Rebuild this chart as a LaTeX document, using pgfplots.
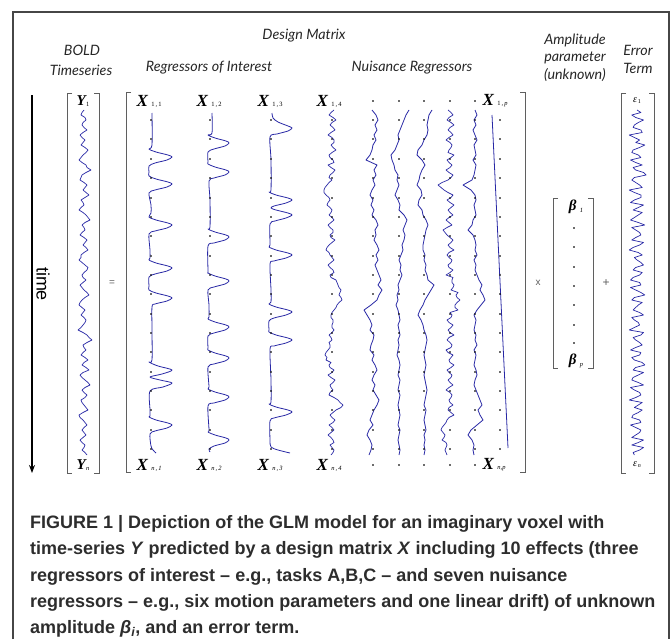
\documentclass[border=0pt]{standalone}
\usepackage{pgfplots}
\pgfplotsset{compat=1.18}
\usepackage{pgfplotstable}
\usepackage{fontspec}
\usetikzlibrary{arrows.meta}
\setmainfont{Liberation Serif}
\newfontfamily\hdr{Lato}
\newfontfamily\plain{Liberation Sans}
\newfontfamily\capfont{Liberation Sans}

\definecolor{sig}{RGB}{40,40,165}
\definecolor{brk}{RGB}{95,95,95}
\definecolor{frame}{RGB}{70,70,70}
\definecolor{captxt}{RGB}{45,45,45}

\tikzset{
  sigline/.style={sig, no markers, line width=0.8pt, line join=round},
  hd/.style={font=\hdr\itshape\fontsize{14.3}{16}\selectfont, text=black!85},
  br/.style={brk, line width=0.8pt},
  capline/.style={anchor=base west, inner sep=0pt, text=captxt,
    font=\capfont\bfseries\fontsize{18}{21}\selectfont},
}

% slower nuisance regressors: offsets (px) from the column line, every 5 px of time
\pgfplotstableread{
y   xb  xc  xd  xf
110 -1  10   8   0
115  3   7   5   2
120  5   5   4  -1
125  2   3   3   1
130  4   1   4  -2
135  1  -1   3   0
140  3   0   0   2
145  0  -2  -2  -1
150 -1  -4  -6   0
155 -3  -8  -7   1
160 -7  -7  -2  -2
165  4  -5   1   1
170  1  -4  -2   0
175  3  -1  -4  -1
180  0  -2  -5  -3
185  2   0  -7 -12
190 -1  -2  -3  -4
195 -3  -4  -2   0
200  0  -1  -5   1
205 -2   1  -6  -1
210  1   0  -2   0
215 -1   5  -1   1
220  3   8   2  -2
225  5   6   4  -3
230  2   4   2  -7
235  3   6   1  -2
240  1   5   0   0
245  4   3  -1   1
250  6   4  -1   0
255  3   2   1   2
260  5   0   0  -1
265  2   2   2   1
270  4   1   1   0
275  6   3   3   2
280  8   1   4   4
285  5  -1  10   7
290  9   0   7   5
295  6  -2   4   8
300  4  -1   1  10
305 -2  -3  -1   6
310 -9  -1  -4   2
315 -6   0  -6  -1
320 -3   1  -3   1
325 -1  -1  -1   0
330 -3   0   0  -1
335  1   1   2   1
340  0  -1   3   0
345 -2   0   2   2
350 -3  -1   1  -1
355  1  -2   0   1
360 -1   0   1   0
365  2   1   2  -1
370  4   0   1   1
375  1  -1   0   2
380 -1   1   1   0
385  2   0   2  -1
390  0  -1   3   1
395  3   1   2   3
400  6   0   1   5
405  4  -1   0   7
410  1   0   2   3
415 -1   1   1   5
420 -3   0   0   8
425  0  -1   1   2
430 -4   1   2  -4
435 -6   0   0  -7
440 -3  -1   1  -3
445 -1   0   0  -1
450 -2   1   1  -2
455 -4   0   0  -1
}\slow

% fast series (BOLD, error, X14, X18): offsets every 2.5 px of time
\pgfplotstableread{
y     bold err xa  xe
110    0   0   2  -2
112.5 -2   3  -1   1
115   -3  -4  -3   3
117.5  1  -1   1  -1
120    2   5   4  -3
122.5 -1   1   0   1
125   -2  -2  -2   4
127.5  0  -3   1   0
130    3   3   3  -2
132.5 -1   4  -1   1
135   -4  -6  -4   3
137.5 -2  -2   0  -1
140    1   2   2  -4
142.5 -1  -1   2   0
145   -3   6  -1   2
147.5  1   2   1   1
150    4  -3   4  -1
152.5  2  -4   0  -2
155   -1   1  -3   4
157.5 -3   3  -2   1
160   -5  -5   1  -3
162.5 -2  -1   2  -1
165    2   4  -4   2
167.5  3  -3  -1   0
170    7  -1   3  -4
172.5  2   5   1  -1
175   -2   7  -2   3
177.5 -3  -2  -3   1
180   -4  -4   0  -2
182.5  0  -1  -3  -8
185    3   2  -5 -12
187.5  1   4  -7  -9
190   -1  -6  -8  -6
192.5  2  -2  -8  -2
195    5   3  -6   3
197.5  1   3  -3   1
200   -3  -2  -2  -3
202.5 -1  -5  -4   0
205    0   5  -5   4
207.5 -3   1  -2   1
210   -5  -3   0  -2
212.5 -1   4  -1   0
215    2   1  -3   3
217.5  4  -2   0  -1
220    6  -5   2  -4
222.5  1   1  -1  -1
225   -2   6  -4   2
227.5  0  -4  -2  -3
230    1  -1   1  -7
232.5 -2   2   1  -5
235   -4   3  -2  -3
237.5  0  -1  -1   0
240    3  -4   3   3
242.5  1   5   0   1
245   -1   2  -3  -2
247.5  2  -3  -5   0
250    4  -6  -6   4
252.5  0   1  -3  -1
255   -3   4  -2  -3
257.5 -3  -2   0  -1
260   -5   0   2   2
262.5 -2   3  -1   1
265    1   5  -4  -2
267.5  4  -1  -2  -1
270    3  -3   1   3
272.5  0   4   2   0
275   -2   2  -2  -4
277.5 -1  -3  -1   3
280    2  -5   4   2
282.5 -1   2   5   2
285   -4   3   6   4
287.5 -2  -5   7   3
290    0  -1   9   1
292.5  3   3   8   8
295    5   6   7   6
297.5  1  -2   9   7
300   -2  -4  10  10
302.5 -4   4   7   7
305   -5   1   5   5
307.5 -2  -1   4   5
310    1  -3   2   8
312.5 -1   2   0   0
315   -3   5  -1   2
317.5  0  -4  -1   1
320    2  -2   1  -3
322.5  1   1   1  -1
325   -1   2   0   3
327.5 -3  -2   0   1
330   -6  -6   2  -2
332.5 -1   5   0   0
335    3   3  -3   4
337.5  5  -3  -1  -1
340    8  -1   0  -3
342.5  3   2  -3   0
345   -1   4  -2   2
347.5  0  -1  -2   1
350    2  -5  -4  -4
352.5 -1   3  -6  -2
355   -3   2  -7   3
357.5  1  -4  -5   1
360    4  -2  -6  -1
362.5  0   4  -1   0
365   -2   6  -3   4
367.5  2  -1  -2   1
370    5  -3   2  -3
372.5 -1   5   0  -1
375   -4   1  -4   2
377.5 -2  -3  -1   1
380    1  -4   3  -2
382.5  4   1   1   0
385    6   5  -2   3
387.5  1  -5  -1  -1
390   -2  -2   1  -4
392.5  0   2  -2   0
395    3   3  -3   2
397.5  1  -1   2   1
400   -3  -6   6  -1
402.5 -2   4   8   0
405    0   1  11   3
407.5  2  -2   9  -1
410    4   4   4  -2
412.5 -1   1   1   1
415   -5  -3  -2   4
417.5 -4  -4   0  -1
420   -1   2   3  -3
422.5  1   3   1  -4
425    3  -5  -3  -6
427.5  0  -1   0  -8
430   -2   3   2  -9
432.5  0   2  -1  -7
435    2  -1  -4  -5
437.5 -1  -4  -1  -6
440   -4   5   1  -8
442.5 -2   1   2  -4
445    1  -4  -2  -3
447.5  0   5   0  -4
450   -2   2   2  -5
452.5  1  -3   1  -4
455    3  -2  -1  -3
}\fast

% row dots of the matrix
\pgfplotstableread{
y
120
139
159
178
198
217
236
256
275
294
314
333
352
372
391
410
430
449
}\rows
\pgfplotstableread{
y
101
465
}\ends
\pgfplotstableread{
y
228
247
267
286
305
325
343
}\betarows

\newcommand{\bigX}{{\fontsize{17}{17}\selectfont\bfseries\itshape X}}
\newcommand{\mX}[2]{\bigX\kern3.5pt{\fontsize{6.5}{7}\selectfont #1\,,\,#2}}
\newcommand{\mY}[1]{{\fontsize{15}{15}\selectfont\bfseries\itshape Y}\kern0.5pt\raisebox{-1pt}{\fontsize{6.5}{7}\selectfont #1}}
\newcommand{\mB}[1]{{\fontsize{15}{15}\selectfont\bfseries\itshape β}\kern3.5pt\raisebox{-2pt}{\fontsize{6.5}{7}\selectfont\itshape #1}}
\newcommand{\mE}[1]{{\fontsize{10}{10}\selectfont\itshape ε}\kern1pt\raisebox{-1pt}{\fontsize{6}{7}\selectfont #1}}

\begin{document}
\begin{tikzpicture}
\begin{axis}[
  scale only axis,
  width=671pt, height=639pt,
  xmin=0, xmax=671, ymin=0, ymax=639,
  y dir=reverse,
  hide axis, clip=false,
]
\path (axis cs:0,0) rectangle (axis cs:671,639);

% frame
\draw[frame, line width=1.1pt] (axis cs:13,639) -- (axis cs:13,12) -- (axis cs:669,12) -- (axis cs:669,639);

% headings
\node[hd] at (axis cs:304,36) {Design Matrix};
\node[hd] at (axis cs:82,50) {BOLD};
\node[hd] at (axis cs:81,70) {Timeseries};
\node[hd] at (axis cs:209,68) {Regressors of Interest};
\node[hd] at (axis cs:412,68) {Nuisance Regressors};
\node[hd] at (axis cs:575,40) {Amplitude};
\node[hd] at (axis cs:575,58) {parameter};
\node[hd] at (axis cs:575,75) {(unknown)};
\node[hd] at (axis cs:638,50) {Error};
\node[hd] at (axis cs:638,68) {Term};

% time arrow
\draw[black, line width=1.6pt, -{Stealth[length=8pt,width=6pt]}] (axis cs:32,95) -- (axis cs:32,473);
\node[font=\plain\fontsize{18}{18}\selectfont, rotate=-90] at (axis cs:43,284) {time};

% brackets
\draw[br] (axis cs:72,93) -- (axis cs:67,93) -- (axis cs:67,473) -- (axis cs:72,473);
\draw[br] (axis cs:94,93) -- (axis cs:99,93) -- (axis cs:99,473) -- (axis cs:94,473);
\draw[br] (axis cs:131,92) -- (axis cs:126,92) -- (axis cs:126,472) -- (axis cs:131,472);
\draw[br] (axis cs:520,92) -- (axis cs:525,92) -- (axis cs:525,472) -- (axis cs:520,472);
\draw[br] (axis cs:558,198) -- (axis cs:553,198) -- (axis cs:553,368) -- (axis cs:558,368);
\draw[br] (axis cs:588,198) -- (axis cs:593,198) -- (axis cs:593,368) -- (axis cs:588,368);
\draw[br] (axis cs:626,93) -- (axis cs:621,93) -- (axis cs:621,473) -- (axis cs:626,473);
\draw[br] (axis cs:649,93) -- (axis cs:654,93) -- (axis cs:654,473) -- (axis cs:649,473);

% operators
\node[font=\plain\fontsize{10}{10}\selectfont, brk] at (axis cs:112,283) {=};
\node[font=\plain\fontsize{10}{10}\selectfont, brk] at (axis cs:538,283) {x};
\node[font=\plain\fontsize{12}{12}\selectfont, brk] at (axis cs:606,283) {+};

% element labels
\node at (axis cs:83,101) {\mY{1}};
\node at (axis cs:83,465) {\mY{\itshape n}};
\node[anchor=west] at (axis cs:133,101) {\mX{1}{1}};
\node[anchor=west] at (axis cs:193,101) {\mX{1}{2}};
\node[anchor=west] at (axis cs:254,101) {\mX{1}{3}};
\node[anchor=west] at (axis cs:313,101) {\mX{1}{4}};
\node[anchor=west] at (axis cs:479,101) {\bigX\kern3.5pt{\fontsize{6.5}{7}\selectfont 1\,,\,\itshape p}};
\node[anchor=west] at (axis cs:133,465) {\mX{\itshape n}{1}};
\node[anchor=west] at (axis cs:193,465) {\mX{\itshape n}{2}};
\node[anchor=west] at (axis cs:254,465) {\mX{\itshape n}{3}};
\node[anchor=west] at (axis cs:313,465) {\mX{\itshape n}{4}};
\node[anchor=west] at (axis cs:479,465) {\bigX\kern3.5pt{\fontsize{6.5}{7}\selectfont\itshape n,p}};
\node at (axis cs:576,207) {\mB{1}};
\node at (axis cs:576,361) {\mB{p}};
\node at (axis cs:637,101) {\mE{1}};
\node at (axis cs:637,465) {\mE{\itshape n}};

% dots of the matrix and of the amplitude vector
\pgfplotsinvokeforeach{151,210,271,332,373,399,424,450,475,500}{
  \addplot[only marks, mark=*, mark size=0.55pt, draw=none, fill=black!70] table[x expr=#1, y=y] {\rows};
}
\pgfplotsinvokeforeach{373,399,424,450,475}{
  \addplot[only marks, mark=*, mark size=0.55pt, draw=none, fill=black!70] table[x expr=#1, y=y] {\ends};
}
\addplot[only marks, mark=*, mark size=0.55pt, draw=none, fill=black!70] table[x expr=574, y=y] {\betarows};

% BOLD time series and error term
\addplot[sigline, line width=0.7pt] table[x expr=\thisrow{bold}+84, y=y] {\fast};
\addplot[sigline, line width=0.7pt] table[x expr=1.3*\thisrow{err}+637, y=y] {\fast};

% regressors of interest
\addplot[sigline, smooth, tension=0.5] coordinates {
(152,113) (152,145)
(149,149) (156,152) (168,155) (172,157) (167,160) (155,163) (149,166) (149,172)
(149,176) (156,179) (168,182) (172,184) (167,187) (155,190) (149,193)
(151,205) (151,213)
(149,217) (156,220) (168,223) (172,225) (167,228) (155,231) (149,234)
(150,250) (150,258)
(149,260) (156,263) (168,266) (172,268) (167,271) (155,274) (149,277) (149,286)
(149,290) (156,293) (168,296) (172,298) (167,301) (155,304) (152,307)
(152,330) (152,360)
(149,362) (158,366) (172,370) (162,374) (150,377) (160,380) (172,383) (163,387) (150,391)
(150,410) (150,416)
(149,417) (156,420) (168,423) (172,425) (167,428) (155,431) (150,434)
(151,446) (153,450) (156,453)
};
\addplot[sigline, smooth, tension=0.5] coordinates {
(212,113) (212,133)
(208,135) (215,138) (226,141) (229,143) (225,146) (214,149) (208,152) (208,162)
(208,164) (215,167) (226,170) (229,172) (225,175) (214,178) (209,181)
(210,200) (210,227)
(208,229) (215,232) (226,235) (229,237) (225,240) (214,243) (208,246) (208,271)
(208,273) (215,276) (226,279) (229,281) (225,284) (214,287) (208,290)
(209,305) (209,317)
(208,319) (215,322) (226,325) (229,327) (225,330) (214,333) (208,336) (208,348)
(208,350) (215,353) (226,356) (229,358) (225,361) (214,364) (208,367)
(209,387)
(208,389) (215,392) (226,395) (229,397) (225,400) (214,403) (208,406)
(209,430)
(208,432) (215,435) (226,438) (229,440) (225,443) (214,446) (209,449)
(210,452)
};
\addplot[sigline, smooth, tension=0.5] coordinates {
(272,113) (273,118)
(278,122) (288,126) (292,128) (288,131) (277,134) (270,137)
(271,160) (271,190)
(269,192) (276,195) (288,198) (292,200) (286,203) (274,206) (271,208)
(276,210) (288,213) (292,215) (286,218) (275,221) (270,224)
(270,245)
(269,247) (276,250) (288,253) (292,255) (286,258) (274,261) (270,264)
(271,290) (271,302)
(269,304) (276,307) (288,310) (292,312) (286,315) (274,318) (269,321) (269,330)
(269,332) (276,335) (288,338) (292,340) (286,343) (274,346) (270,349)
(271,380) (271,402)
(269,404) (276,407) (288,410) (292,412) (286,415) (274,418) (270,421)
(270,440) (271,447) (278,450) (290,453)
};

% nuisance regressors
\addplot[sigline, line width=0.7pt] table[x expr=\thisrow{xa}+332, y=y] {\fast};
\addplot[sigline] table[x expr=\thisrow{xb}+373, y=y] {\slow};
\addplot[sigline] table[x expr=\thisrow{xc}+399, y=y] {\slow};
\addplot[sigline] table[x expr=\thisrow{xd}+424, y=y] {\slow};
\addplot[sigline, line width=0.7pt] table[x expr=\thisrow{xe}+450, y=y] {\fast};
\addplot[sigline] table[x expr=\thisrow{xf}+475, y=y] {\slow};
\addplot[sigline] coordinates {(492,115) (508,448)};

% caption
\node[capline] at (axis cs:30,528) {FIGURE 1 | Depiction of the GLM model for an imaginary voxel with};
\node[capline] at (axis cs:30,554) {time-series \textit{Y} predicted by a design matrix \textit{X} including 10 effects (three};
\node[capline] at (axis cs:30,581) {regressors of interest – e.g., tasks A,B,C – and seven nuisance};
\node[capline] at (axis cs:30,607) {regressors – e.g., six motion parameters and one linear drift) of unknown};
\node[capline] at (axis cs:30,633) {amplitude \textit{β\textsubscript{i}}, and an error term.};
\end{axis}
\end{tikzpicture}
\end{document}
